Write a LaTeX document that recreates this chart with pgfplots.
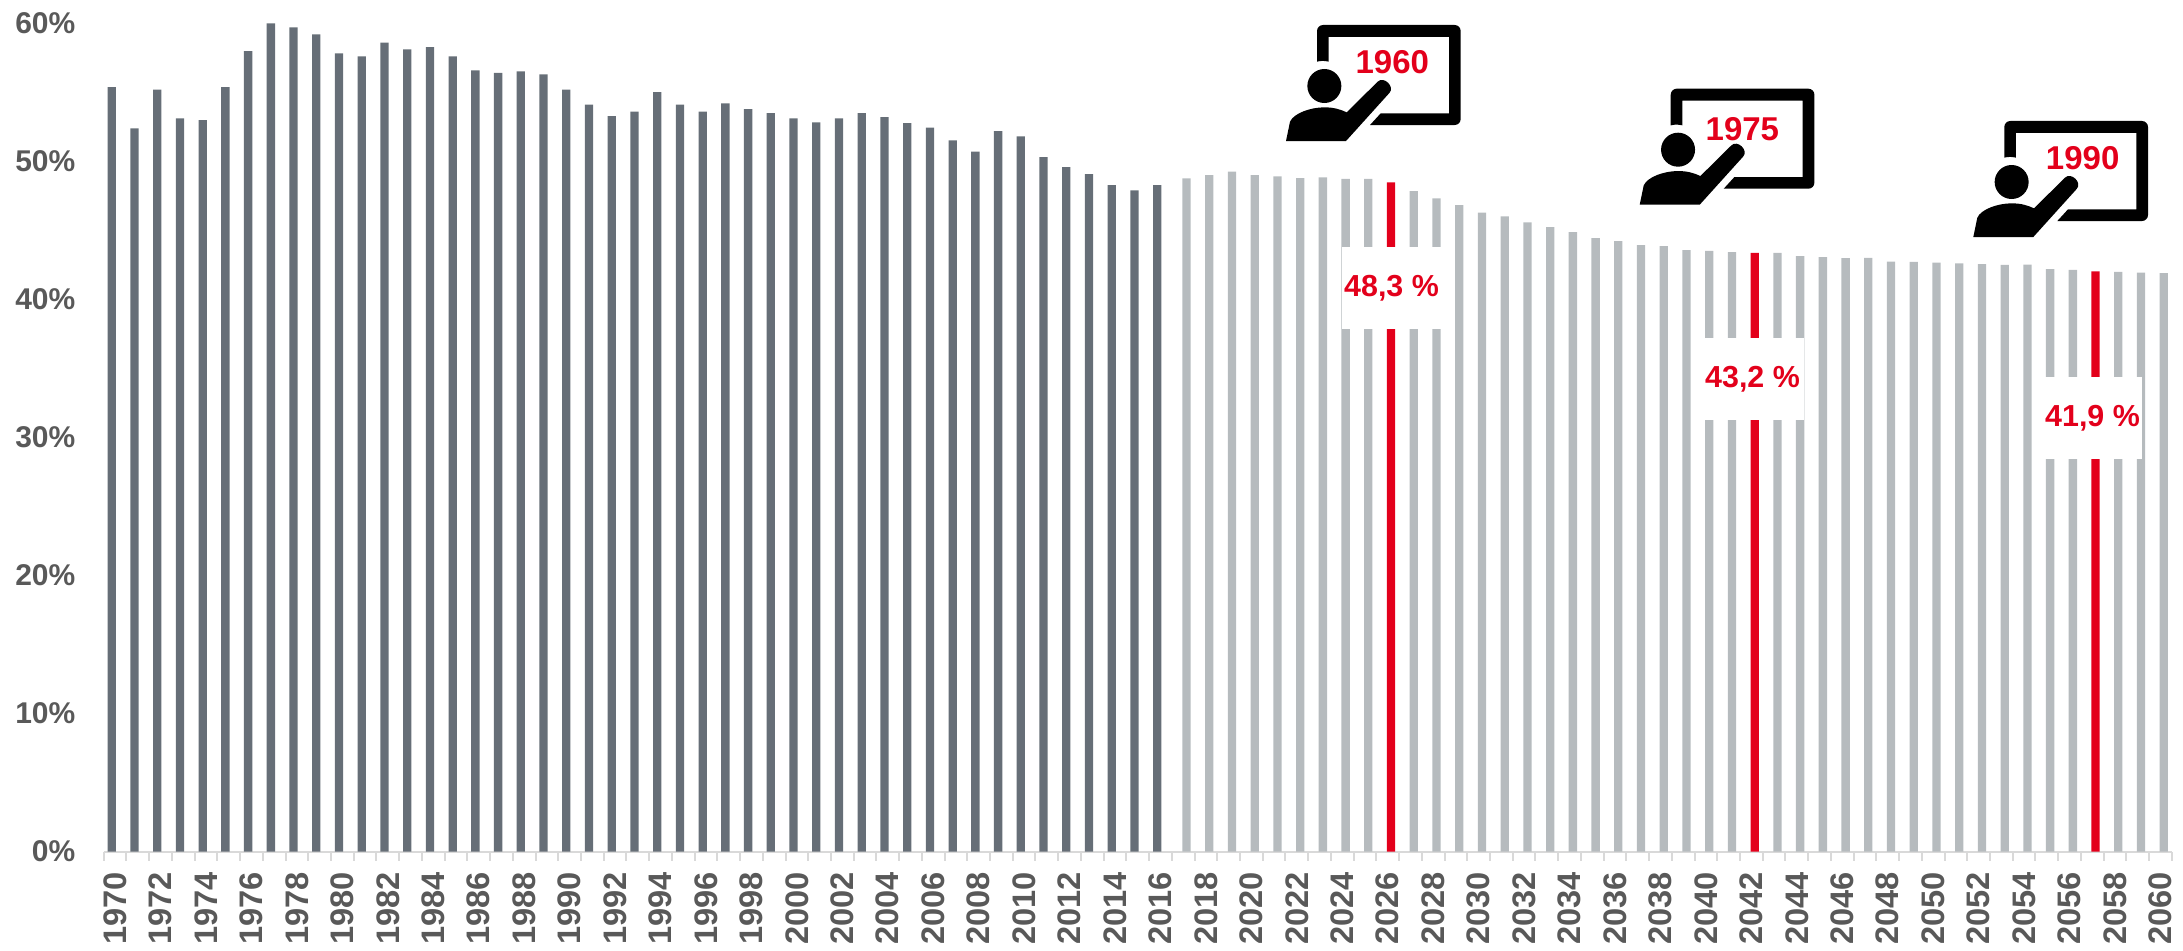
\documentclass[border=0pt]{standalone}
\usepackage{pgfplots}
\usepackage{pgfplotstable}
\usepackage{fontspec}
\setmainfont{Liberation Sans}
\pgfplotsset{compat=1.18}
\definecolor{dark}{HTML}{666E77}
\definecolor{light}{HTML}{B6BBBE}
\definecolor{hl}{HTML}{E3001B}
\definecolor{lab}{HTML}{595959}
\definecolor{axl}{HTML}{D9D9D9}
\pgfplotstableread{
x v
0 55.36
1 52.37
2 55.17
3 53.09
4 52.97
5 55.36
6 57.97
7 59.98
8 59.69
9 59.18
10 57.80
11 57.59
12 58.58
13 58.09
14 58.26
15 57.59
16 56.57
17 56.38
18 56.50
19 56.28
20 55.17
21 54.08
22 53.26
23 53.58
24 55.00
25 54.08
26 53.58
27 54.18
28 53.77
29 53.48
30 53.09
31 52.80
32 53.09
33 53.48
34 53.19
35 52.75
36 52.42
37 51.50
38 50.68
39 52.17
40 51.79
41 50.29
42 49.57
43 49.06
44 48.26
45 47.88
46 48.26
}\hist
\pgfplotstableread{
x v
47 48.75
48 48.99
49 49.23
50 48.99
51 48.89
52 48.77
53 48.82
54 48.72
55 48.72
57 47.83
58 47.30
59 46.81
60 46.26
61 45.99
62 45.56
63 45.22
64 44.86
65 44.42
66 44.20
67 43.92
68 43.84
69 43.55
70 43.50
71 43.40
73 43.35
74 43.11
75 43.04
76 42.97
77 42.99
78 42.72
79 42.70
80 42.65
81 42.60
82 42.53
83 42.48
84 42.50
85 42.17
86 42.12
88 41.98
89 41.93
90 41.88
}\proj
\pgfplotstableread{
x v
56 48.45
72 43.35
87 42.02
}\marked
\newcommand{\icon}[4]{%
\begin{scope}[xshift=#1*0.5pt,yshift=(950-#2)*0.5pt,x=0.166667pt,y=-0.166667pt]
\fill[black] (0,110) [rounded corners=3pt] -- (0,0) -- (431,0) -- (431,300) [sharp corners] -- (159,300) -- (191,265) -- (396,265) -- (396,36) -- (35,36) -- (35,110) .. controls (22,107) and (12,107) .. (0,110) -- cycle;
\fill[black] (22,183) circle[radius=8.5pt];
\fill[black] (-93,348) -- (-81,290) .. controls (-70,265) and (-20,247) .. (22,247) .. controls (50,247) and (70,253) .. (89,262) -- (182,170) .. controls (200,152) and (235,185) .. (217,204) -- (87,348) -- cycle;
\node[text=hl,font=\fontsize{16.5pt}{18pt}\selectfont\bfseries,inner sep=0pt] at (#3,#4) {\csname icontext\endcsname};
\end{scope}}
\newcommand{\valbox}[4]{%
\node[fill=white,minimum width=#3*0.5pt,minimum height=41pt,inner sep=0pt,text=hl,font=\fontsize{15.2pt}{17pt}\selectfont\bfseries] at (#1*0.5pt,{(950-#2)*0.5pt}) {#4};}
\begin{document}
\begin{tikzpicture}
\path[use as bounding box] (0,0) rectangle (1091.5pt,475pt);
\begin{axis}[
  at={(51.85pt,49.25pt)},anchor=south west,
  scale only axis,width=1034.15pt,height=414.25pt,
  xmin=-0.5,xmax=90.5,ymin=0,ymax=60,clip=false,
  axis x line*=bottom,axis y line*=left,
  y axis line style={draw=none},
  x axis line style={draw=axl,line width=1pt,-},
  xtick={0,2,...,90},
  xticklabels={1970,1972,1974,1976,1978,1980,1982,1984,1986,1988,1990,1992,1994,1996,1998,2000,2002,2004,2006,2008,2010,2012,2014,2016,2018,2020,2022,2024,2026,2028,2030,2032,2034,2036,2038,2040,2042,2044,2046,2048,2050,2052,2054,2056,2058,2060},
  minor xtick={-0.5,0.5,...,90.5},
  major tick length=0pt,
  minor tick length=4.5pt,
  tick style={draw=axl,line width=1pt},
  minor tick style={draw=axl,line width=1pt},
  ytick={0,10,...,60},
  yticklabels={0\%,10\%,20\%,30\%,40\%,50\%,60\%},
  ytick style={draw=none},
  xticklabel style={rotate=90,anchor=east,inner sep=0pt,xshift=-10pt,text=lab,font=\fontsize{16.3pt}{16pt}\selectfont\bfseries},
  yticklabel style={anchor=east,inner sep=0pt,xshift=-14pt,text=lab,font=\fontsize{15pt}{15pt}\selectfont\bfseries},
  ybar,bar width=4.15pt,
]
\addplot[bar shift=-1.65pt,fill=dark,draw=none] table[x=x,y=v] {\hist};
\addplot[bar shift=1.65pt,fill=light,draw=none] table[x=x,y=v] {\proj};
\addplot[bar shift=1.65pt,fill=hl,draw=none] table[x=x,y=v] {\marked};
\end{axis}
\valbox{1391.5}{288}{99}{48,3 \%}
\valbox{1752.5}{379}{103}{43,2 \%}
\valbox{2092.5}{418}{99}{41,9 \%}
\def\icontext{1960}\icon{1317}{25}{226}{110}
\def\icontext{1975}\icon{1670.7}{88.7}{215}{122}
\def\icontext{1990}\icon{2004.3}{121}{235}{112}
\end{tikzpicture}
\end{document}
